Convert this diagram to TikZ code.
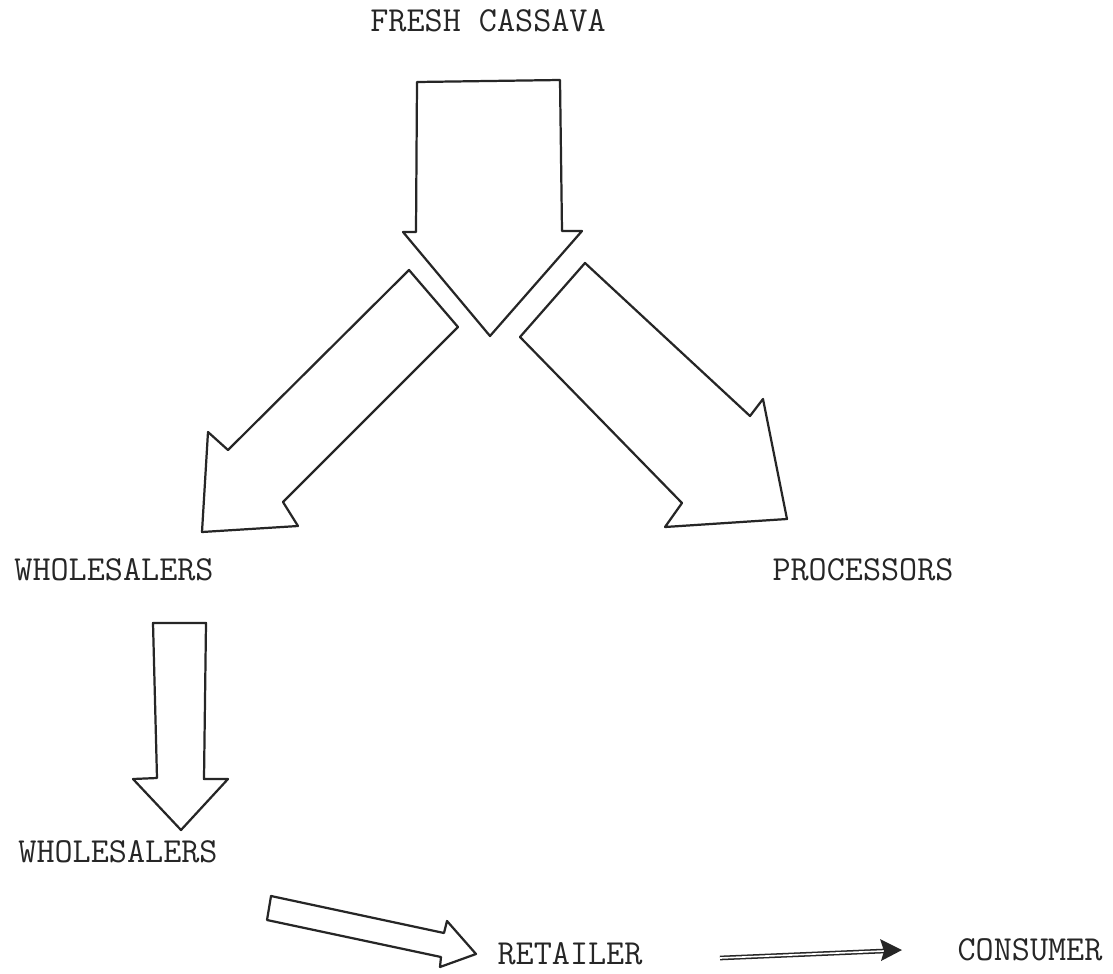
\documentclass[tikz,border=0pt]{standalone}
\usepackage{fontspec}
\usetikzlibrary{arrows.meta}
\definecolor{ink}{HTML}{262626}
\tikzset{
  blockarrow/.style={draw=ink, line width=1.9pt, line join=round, fill=white},
  lbl/.style={font=\ttfamily\fontsize{30}{34}\selectfont, text=ink, inner sep=0pt},
  dbl/.style={draw=ink, double=white, line width=1.3pt, double distance=1.4pt}
}
\begin{document}
\begin{tikzpicture}[x=0.03cm,y=-0.03cm]
\useasboundingbox (0,0) rectangle (1113,973);
\fill[white] (0,0) rectangle (1113,973);

% labels
\node[lbl] (fresh) at (488,21) {FRESH CASSAVA};
\node[lbl] (whole1) at (114,570) {WHOLESALERS};
\node[lbl] (proc) at (863,570) {PROCESSORS};
\node[lbl] (whole2) at (118,852) {WHOLESALERS};
\node[lbl] (ret) at (570,954) {RETAILER};
\node[lbl] (cons) at (1030,950) {CONSUMER};

% top down arrow
\draw[blockarrow] (417,82) -- (560,80) -- (562,231) -- (582,231) -- (490,336)
  -- (403,232) -- (416,232) -- cycle;

% left diagonal arrow
\draw[blockarrow] (409,270) -- (458,327) -- (283,502) -- (298,526) -- (202,532)
  -- (208,432) -- (228,450) -- cycle;

% right diagonal arrow
\draw[blockarrow] (585,263) -- (750,416) -- (763,399) -- (787,519) -- (665,527)
  -- (682,503) -- (520,337) -- cycle;

% lower vertical arrow
\draw[blockarrow] (153,623) -- (206,623) -- (204,779) -- (228,779) -- (181,830)
  -- (133,779) -- (157,778) -- cycle;

% arrow to retailer
\draw[blockarrow] (271,896) -- (444,933) -- (447,921) -- (476,954) -- (440,967)
  -- (441,957) -- (267,920) -- cycle;

% arrow to consumer
\coordinate (c1) at (720,958);
\coordinate (c2) at (884,951);
\coordinate (c3) at (902,950);
\draw[dbl] (c1) -- (c2);
\fill[ink] (c3) -- (880,939) -- (884,951) -- (881,961) -- cycle;
\end{tikzpicture}
\end{document}
